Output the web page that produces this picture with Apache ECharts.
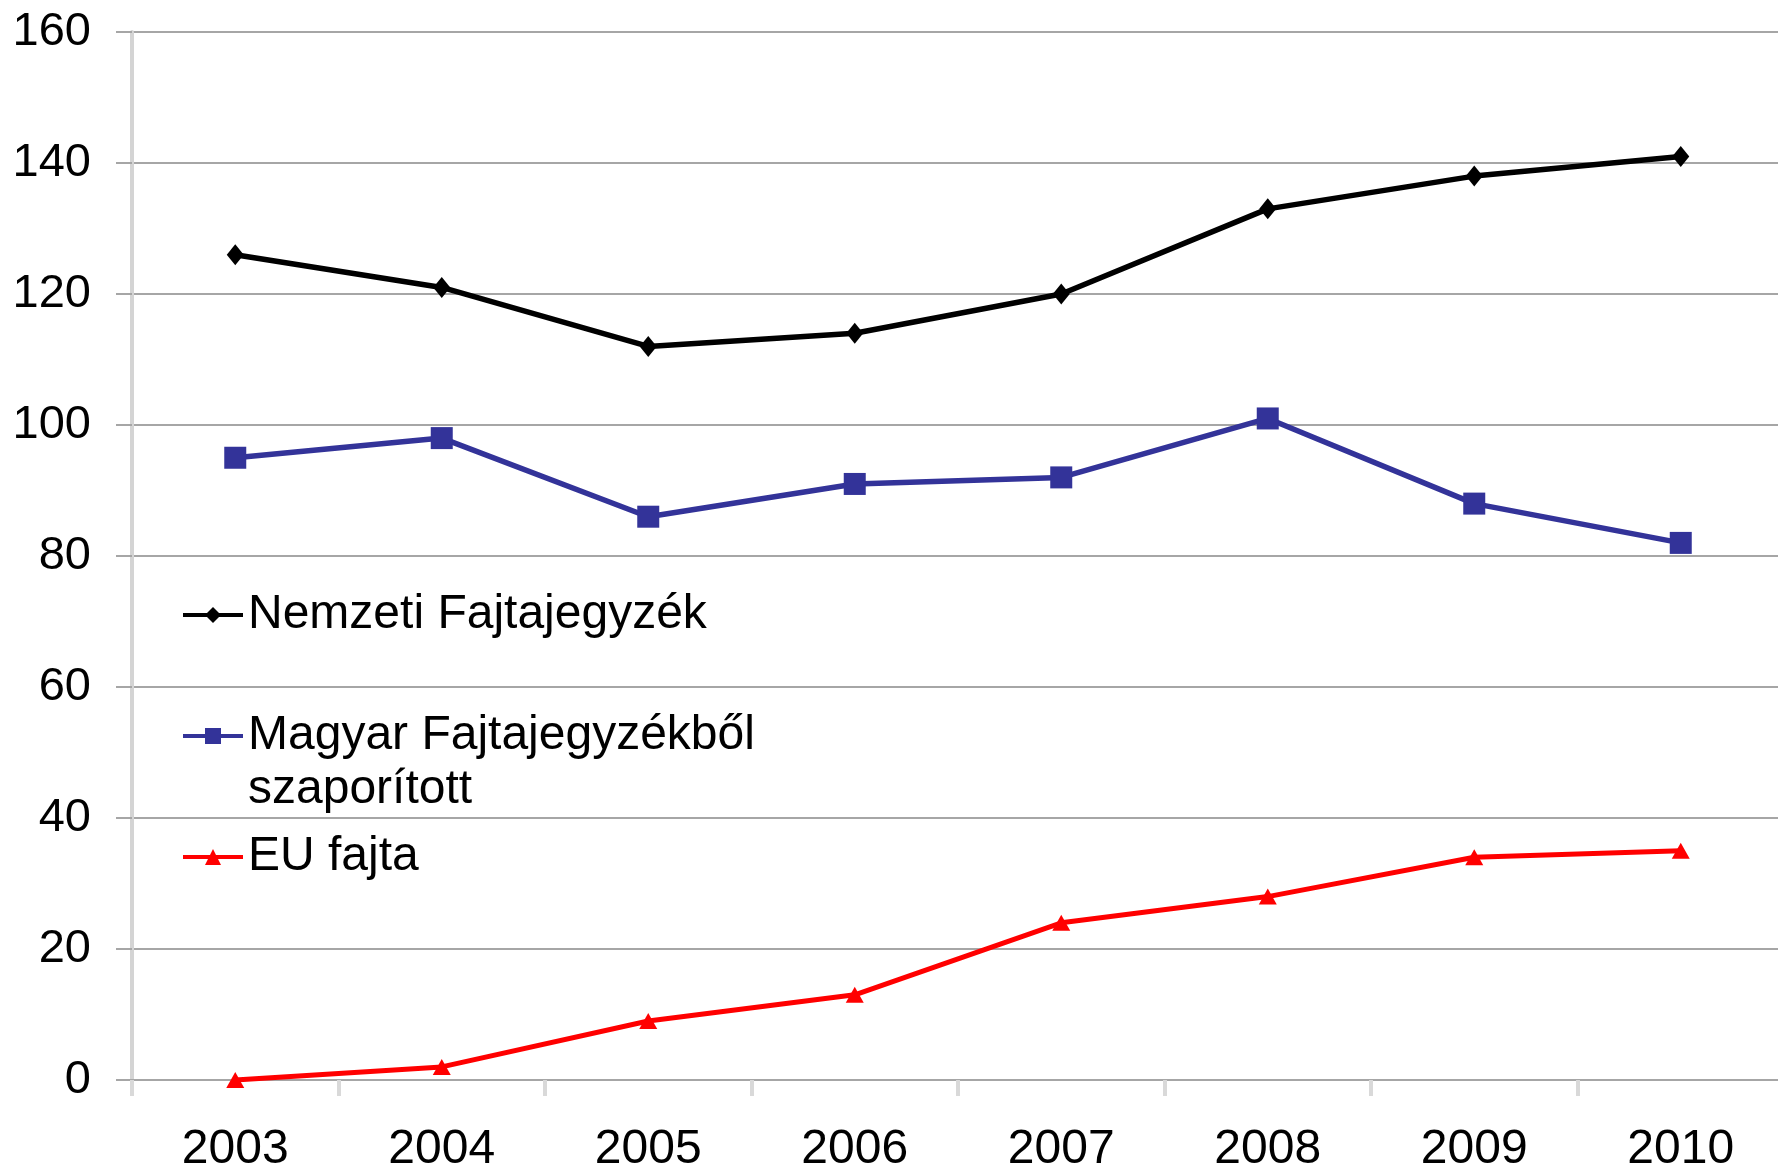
<!DOCTYPE html>
<html>
<head>
<meta charset="utf-8">
<script src="https://cdn.jsdelivr.net/npm/echarts@6/dist/echarts.min.js"></script>
<style>html,body{margin:0;padding:0;background:#fff}#c{width:1778px;height:1171px}</style>
</head>
<body>
<div id="c"></div>
<script>
const years = ['2003','2004','2005','2006','2007','2008','2009','2010'];
const nemzeti = [126, 121, 112, 114, 120, 133, 138, 141];
const magyar = [95, 98, 86, 91, 92, 101, 88, 82];
const eu = [0, 2, 9, 13, 24, 28, 34, 35];
const seriesNames = ['Nemzeti Fajtajegyzék', 'Magyar Fajtajegyzékből szaporított', 'EU fajta'];
const yTicks = [0, 20, 40, 60, 80, 100, 120, 140, 160];

const font = '"Liberation Sans", Arial, sans-serif';
const chart = echarts.init(document.getElementById('c'), null, {renderer: 'canvas'});
chart.setOption({
  animation: false,
  backgroundColor: '#ffffff',
  grid: {left: 132, right: -6, top: 32, bottom: 91, containLabel: false, outerBoundsMode: 'none'},
  legend: {
    orient: 'vertical',
    left: 176,
    top: 583,
    itemGap: 13,
    itemWidth: 60,
    itemHeight: 20,
    lineStyle: {width: 4},
    data: seriesNames,
    formatter: function (n) { return n === seriesNames[1] ? '\nMagyar Fajtajegyzékből\nszaporított' : n; },
    textStyle: {fontFamily: font, fontSize: 48, color: '#000', lineHeight: 54}
  },
  xAxis: {
    type: 'category',
    data: years,
    boundaryGap: true,
    axisLine: {show: true, lineStyle: {color: '#a6a6a6', width: 2}},
    axisTick: {show: true, length: 16, lineStyle: {color: '#d9d9d9', width: 4}},
    axisLabel: {fontFamily: font, fontSize: 48, color: '#000', margin: 46},
    splitLine: {show: false}
  },
  yAxis: {
    type: 'value',
    min: yTicks[0],
    max: yTicks[yTicks.length - 1],
    interval: 20,
    axisLine: {show: true, lineStyle: {color: '#d4d4d4', width: 4}},
    axisTick: {show: true, length: 16, lineStyle: {color: '#a6a6a6', width: 2}},
    axisLabel: {fontFamily: font, fontSize: 47, color: '#000', margin: 41},
    splitLine: {show: true, lineStyle: {color: '#a6a6a6', width: 2}}
  },
  series: [
    {name: seriesNames[0], type: 'line', data: nemzeti, symbol: 'diamond', symbolSize: [17, 21],
     lineStyle: {color: '#000000', width: 5.5}, itemStyle: {color: '#000000'}, z: 3},
    {name: seriesNames[1], type: 'line', data: magyar, symbol: 'rect', symbolSize: 22,
     lineStyle: {color: '#333399', width: 5.5}, itemStyle: {color: '#333399'}, z: 3},
    {name: seriesNames[2], type: 'line', data: eu, symbol: 'triangle', symbolSize: [18, 16],
     lineStyle: {color: '#ff0000', width: 5}, itemStyle: {color: '#ff0000'}, z: 3}
  ]
});
</script>
</body>
</html>
